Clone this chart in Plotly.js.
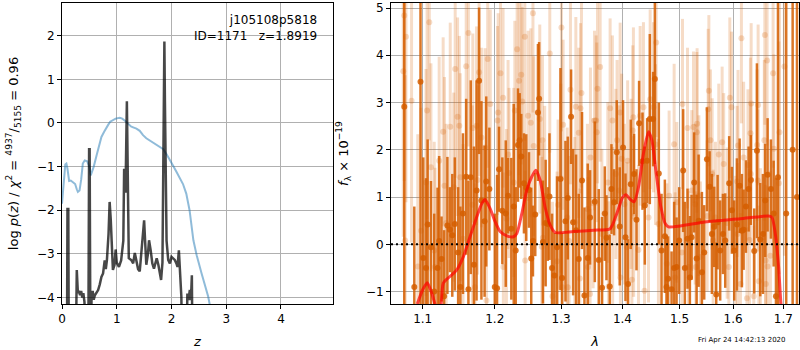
<!DOCTYPE html>
<html>
<head>
<meta charset="utf-8">
<script src="https://cdn.plot.ly/plotly-3.0.1.min.js"></script>
<style>html,body{margin:0;padding:0;background:#fff;}#chart{width:800px;height:350px;}</style>
</head>
<body>
<div id="chart"></div>
<script>
// ---------------- Left panel: log p(z) ----------------
const zBlue = [0.0,0.03,0.06,0.08,0.10,0.13,0.16,0.20,0.24,0.27,0.29,0.32,0.35,0.38,0.415,0.46,0.50,0.525,0.58,0.63,0.68,0.72,0.77,0.81,0.84,0.88,0.93,0.98,1.055,1.10,1.15,1.21,1.26,1.30,1.36,1.42,1.48,1.54,1.60,1.66,1.72,1.79,1.85,1.91,1.97,2.03,2.09,2.15,2.21,2.27,2.33,2.40,2.46,2.55,2.61,2.67,2.72,2.78];
const logpBlue = [-1.85,-1.3,-0.95,-0.93,-1.05,-1.33,-1.32,-1.36,-1.4,-1.52,-1.58,-1.55,-1.3,-0.93,-0.86,-0.88,-1.0,-1.2,-1.0,-0.75,-0.5,-0.32,-0.2,-0.1,-0.05,0.03,0.07,0.1,0.12,0.1,0.05,-0.02,-0.08,-0.1,-0.13,-0.18,-0.28,-0.35,-0.4,-0.43,-0.48,-0.55,-0.6,-0.72,-0.84,-0.98,-1.12,-1.28,-1.4,-1.62,-2.0,-2.69,-3.03,-3.45,-3.72,-3.98,-4.3,-4.6];

const zBlack = [0.0,0.09,0.10,0.115,0.125,0.25,0.27,0.29,0.31,0.33,0.35,0.37,0.39,0.41,0.44,0.48,0.495,0.505,0.52,0.54,0.56,0.58,0.60,0.63,0.66,0.69,0.72,0.75,0.77,0.78,0.80,0.82,0.85,0.87,0.89,0.91,0.93,0.96,0.98,1.0,1.04,1.08,1.12,1.135,1.16,1.185,1.20,1.22,1.27,1.30,1.33,1.36,1.39,1.42,1.45,1.48,1.50,1.52,1.54,1.57,1.59,1.62,1.65,1.68,1.71,1.73,1.76,1.79,1.81,1.835,1.85,1.87,1.88,1.895,1.91,1.94,1.97,2.0,2.03,2.06,2.09,2.11,2.135,2.15,2.18,2.20,2.27,2.29,2.31,2.335,2.355,2.372,2.385];
const logpBlack = [-5.5,-5.5,-1.97,-1.97,-5.5,-5.5,-3.37,-3.9,-3.85,-3.95,-3.85,-4.0,-3.9,-4.1,-5.5,-5.5,-0.6,-0.6,-5.5,-4.0,-3.85,-4.05,-3.95,-3.9,-3.83,-3.7,-3.53,-3.45,-3.3,-3.15,-3.35,-3.15,-2.55,-1.81,-2.2,-2.9,-3.37,-3.25,-2.9,-3.2,-3.3,-3.15,-2.7,-1.05,-1.6,0.5,-1.5,-3.1,-3.15,-3.22,-2.98,-3.15,-3.35,-3.4,-2.98,-2.5,-2.23,-2.75,-3.25,-3.0,-2.69,-2.92,-3.22,-3.34,-3.22,-3.1,-3.25,-3.45,-3.6,-3.2,-0.93,1.87,0.5,-2.08,-2.7,-3.14,-3.22,-3.07,-3.11,-3.14,-3.22,-3.3,-2.92,-3.22,-3.98,-5.5,-5.5,-3.91,-4.06,-3.83,-4.06,-3.49,-5.5];

// ---------------- Right panel: spectrum ----------------
const darkWave = [1.0758,1.0889,1.0971,1.1008,1.1044,1.1066,1.1110,1.1154,1.1199,1.1221,1.1253,1.1288,1.1333,1.1368,1.1400,1.1435,1.1481,1.1512,1.1548,1.1593,1.1624,1.1657,1.1702,1.1739,1.1775,1.1808,1.1853,1.1877,1.1922,
1.2000,1.2033,1.2062,1.2110,1.2160,1.2194,1.2242,1.2278,1.2307,1.2341,1.2366,1.2390,1.2430,1.2465,1.2506,1.2540,1.2566,1.2601,1.2642,1.2660,1.2718,1.2760,1.2793,1.2819,1.2859,1.2896,1.2937,1.2990,1.3015,1.3069,1.3106,1.3158,1.3190,1.3237,1.3280,1.3333,1.3372,1.3425,1.3463,1.3540,
1.3605,1.3659,1.3704,1.3732,1.3787,1.3815,1.3859,1.3904,1.3954,1.4010,1.4051,1.4095,1.4141,1.4197,1.4239,1.4284,1.4343,1.4383,1.4423,1.4470,1.4528,1.4558,1.4628,1.4676,1.4735,1.4765,1.4793,1.4855,1.4902,1.4945,1.4992,1.5064,1.5095,1.5144,1.5187,1.5218,1.5266,1.5311,
1.5348,1.5409,1.5452,1.5503,1.5553,1.5596,1.5640,1.5678,1.5704,1.5753,1.5805,1.5849,1.5925,1.5977,1.6022,1.6074,1.6127,1.6171,1.6205,1.6250,1.6303,1.6348,1.6414,1.6467,1.6533,1.6587,1.6633,1.6681,1.6748,1.6803,1.6850,1.6891,1.7060,1.7193,1.7283];
const darkFlux = [2.91,-0.9,3.44,-0.29,-0.5,0.42,-0.06,-1.0,-0.5,0.07,-0.31,-1.1,0.4,0.31,0.19,0.43,-0.17,-0.9,0.65,1.43,-0.95,1.42,-0.43,1.14,3.46,0.93,0.49,1.33,1.17,
-0.9,-0.93,1.59,0.71,0.65,1.03,0.33,0.8,-0.13,2.1,2.2,1.86,1.29,1.2,1.15,-0.3,0.07,0.63,2.79,3.08,0.05,0.45,0.43,1.01,-0.5,-0.66,-0.06,1.38,-0.71,0.49,0.98,2.7,0.47,0.3,-0.31,1.35,-1.08,-0.29,0.57,0.9,
-0.33,-0.92,0.65,0.14,-0.89,1.17,0.89,1.95,0.38,2.05,0.15,-0.84,1.27,1.49,0.52,2.56,1.76,0.82,1.77,2.65,2.65,3.5,1.5,-0.13,0.17,-0.9,-0.73,-0.95,-0.5,-0.48,0.08,1.56,-0.5,0.12,-0.7,0.15,1.31,-0.3,
0.5,-0.59,-0.17,1.8,1.22,0.22,0.37,-1.06,0.47,-0.13,0.22,0.08,1.29,0.72,-0.13,0.42,1.24,0.29,0.31,0.8,1.17,1.36,-0.14,1.98,0.1,0.22,0.93,1.47,1.17,0.65,-1.1,1.42,0.65,2.0,1.0];
const darkErr = [6,1.7,6,2.13,1.9,1.8,1.4,1.65,1.7,1.8,0.9,1.4,1.45,0.9,1.3,1.41,1.38,1.7,1.7,1.65,2.3,2.05,2.5,2.33,1.55,2.1,1.6,1.8,1.3,
1.55,2.4,0.9,1.13,1.55,0.8,1.5,2.17,1.34,1.2,1.0,0.9,1.06,1.13,0.8,1.5,0.75,0.88,1.45,1.2,1.3,1.34,0.78,1.34,1.15,0.9,1.5,2.35,0.95,1.7,1.3,1.0,1.55,1.6,1.38,1.45,1.86,2.0,1.0,1.7,
1.5,1.5,1.0,0.9,1.1,0.95,0.7,1.1,1.25,1.0,1.35,0.95,1.37,0.85,1.07,0.9,1.03,1.25,0.9,1.8,1.0,1.8,1.5,1.2,1.2,1.1,0.9,0.8,1.4,1.05,1.13,1.3,1.4,1.06,1.3,0.9,1.06,1.35,
1.4,1.7,1.0,1.1,0.75,1.27,0.85,1.1,1.0,1.06,0.85,1.0,1.0,0.92,1.06,1.4,1.0,1.2,0.85,0.98,0.9,0.95,0.9,1.85,1.2,1.27,1.2,1.2,1.05,1.12,2.5,8,8,8,8];

const lightWave = [1.0745,1.0758,1.0770,1.0780,1.0853,1.0935,1.0978,1.1044,1.1058,1.1088,1.1110,1.1154,1.1165,1.1221,1.1275,1.1293,1.1317,1.1372,1.1420,1.1440,1.1473,1.1497,1.1510,1.1548,1.1593,1.1624,1.1680,1.1686,1.1716,1.1739,1.1753,1.1775,1.1808,1.1860,1.1880,1.1898,1.1935,
1.2040,1.2049,1.2083,1.2121,1.2125,1.2170,1.2194,1.2209,1.2278,1.2294,1.2328,1.2358,1.2390,1.2405,1.2443,1.2448,1.2493,1.2534,1.2566,1.2577,1.2670,1.2700,1.2711,1.2718,1.2745,1.2824,1.2865,1.2937,1.2953,1.2996,1.3006,1.3020,1.3032,1.3096,1.3106,1.3127,1.3148,1.3217,1.3234,1.3280,1.3298,1.3308,1.3324,1.3420,1.3430,1.3463,1.3469,1.3513,1.3535,
1.3562,1.3573,1.3584,1.3628,1.3656,1.3754,1.3765,1.3793,1.3831,1.3835,1.3888,1.3909,1.3944,1.3961,1.3965,1.3987,1.4033,1.4074,1.4088,1.4147,1.4160,1.4175,1.4186,1.4190,1.4273,1.4302,1.4359,1.4377,1.4447,1.4476,1.4534,1.4570,1.4582,1.4621,1.4770,1.4811,1.4901,1.4919,1.4949,1.5040,1.5052,1.5143,1.5162,1.5222,1.5253,1.5284,1.5297,1.5315,
1.5320,1.5353,1.5382,1.5507,1.5526,1.5539,1.5569,1.5601,1.5620,1.5663,1.5726,1.5790,1.5820,1.5886,1.5918,1.5937,1.5969,1.6045,1.6078,1.6085,1.6096,1.6143,1.6162,1.6205,1.6270,1.6290,1.6320,1.6339,1.6345,1.6353,1.6405,1.6471,1.6485,1.6491,1.6505,1.6537,1.6615,1.6625,1.6640,1.6645,1.6671,1.6680,1.6738,1.6792,1.6806,1.6910,1.6922,1.7023];
const lightFlux = [3.66,4.84,0.08,4.39,3.04,-0.47,0.29,1.31,2.83,4.70,1.63,-0.13,-0.48,1.77,2.38,1.24,0.45,2.49,1.21,3.71,2.70,2.51,1.42,0.12,3.77,4.47,0.84,2.46,-0.91,2.51,1.36,3.64,2.26,2.05,-1.19,3.92,2.97,
2.62,2.79,3.62,3.10,-0.48,0.54,1.90,1.51,1.31,2.83,4.13,3.46,3.59,3.02,4.39,-0.34,2.72,2.57,4.89,2.08,2.65,-0.05,2.20,0.14,1.03,4.04,-1.10,-0.36,0.84,1.40,4.59,-0.91,2.53,0.57,-0.91,0.07,3.27,0.47,2.91,2.36,-0.72,2.88,3.20,0.75,-0.48,-1.05,1.84,0.87,2.62,
2.62,2.37,3.29,3.75,0.22,1.31,-0.89,2.88,2.62,0.36,1.49,2.20,1.14,2.79,-0.70,1.81,0.85,-0.06,1.77,1.28,-0.75,2.41,2.69,0.59,-0.12,2.72,2.90,-0.98,0.57,3.07,2.90,2.11,4.27,0.43,-0.41,1.03,2.12,-0.70,0.89,-0.17,2.97,2.46,-0.48,1.14,2.48,0.85,-0.48,2.37,
2.55,1.03,-0.27,0.60,2.86,3.25,2.20,1.49,0.08,0.57,1.90,2.16,1.70,0.45,-0.48,3.10,2.90,-0.05,1.33,0.22,2.09,-0.84,4.36,1.84,-1.14,1.68,0.09,2.35,1.49,2.98,-1.10,2.10,1.35,2.95,-0.78,0.11,2.20,4.43,-0.34,-0.84,3.89,-0.47,-0.24,3.62,2.02,1.29,2.37,3.76];
const lightErr = [3.5,3.5,3.5,3.5,3.0,2.8,2.6,2.4,2.3,2.5,2.2,2.3,2.1,2.2,2.0,2.3,2.1,2.2,2.0,2.3,2.1,1.9,2.2,2.0,2.2,2.4,2.1,2.0,2.2,2.1,2.0,2.2,1.9,2.1,2.2,2.3,2.0,
2.0,2.1,2.0,1.9,2.0,1.9,2.0,1.8,2.0,1.9,2.1,2.0,1.9,2.0,2.2,1.9,1.8,2.0,2.1,1.9,2.0,1.9,1.8,2.0,1.9,2.1,2.0,1.9,1.8,2.0,2.2,1.9,1.8,1.9,2.0,1.8,2.0,1.8,1.9,1.8,1.9,1.8,2.0,1.8,1.9,1.8,1.9,1.8,1.9,
1.8,1.9,2.0,2.0,1.8,1.7,1.8,1.9,1.8,1.7,1.8,1.7,1.8,1.9,1.7,1.8,1.7,1.8,1.7,1.8,1.7,1.8,1.9,1.7,1.8,1.9,1.8,1.7,1.8,1.9,1.8,1.7,2.0,1.8,1.7,1.8,1.7,1.8,1.7,1.7,1.8,1.7,1.6,1.7,1.6,1.7,1.6,1.7,
1.6,1.7,1.6,1.6,1.7,1.6,1.5,1.6,1.5,1.6,1.5,1.6,1.5,1.6,1.5,1.7,1.6,1.5,1.6,1.5,1.6,1.5,1.8,1.6,1.5,1.6,1.5,1.6,1.5,1.7,1.5,1.6,1.5,1.7,1.6,1.5,1.7,1.9,1.6,1.7,1.8,1.7,1.8,2.0,2.0,3.0,3.0,4.0];

const modelWave = [1.0928,1.1000,1.1061,1.1120,1.1164,1.1232,1.1277,1.1368,1.1462,1.1554,1.1647,1.1741,1.1813,1.1860,1.1932,1.2005,1.2078,1.2176,1.2274,1.2324,1.2398,1.2473,1.2548,1.2609,1.2675,1.2751,1.2829,1.2907,1.3195,1.3519,1.3793,1.3904,1.4005,1.4061,1.4130,1.4199,1.4275,1.4359,1.4447,1.4506,1.4582,1.4665,1.4741,1.4800,1.5010,1.5500,1.6137,1.6700,1.6769,1.6836,1.6904,1.6953,1.7041];
const modelFlux = [-1.26,-0.96,-0.81,-1.03,-1.26,-1.5,-0.82,-0.68,-0.54,-0.26,0.16,0.58,0.86,0.95,0.76,0.48,0.27,0.18,0.16,0.23,0.65,1.15,1.43,1.57,1.36,0.79,0.41,0.25,0.27,0.3,0.33,0.65,1.0,1.05,0.95,0.9,1.22,1.92,2.38,2.2,1.5,0.79,0.44,0.37,0.39,0.48,0.54,0.6,0.57,0.23,-0.47,-1.26,-2.0];

const zeroLevel = 0;
const dateStamp = "Fri Apr 24 14:42:13 2020";

// ---------------- styling ----------------
const FONT = "DejaVu Sans, Liberation Sans, sans-serif";
const G141 = "213,94,0";

const axisCommon = {
  showline: true, mirror: true, linecolor: "#000", linewidth: 1,
  ticks: "outside", ticklen: 4, tickcolor: "#000", tickwidth: 1,
  showgrid: true, gridcolor: "#b0b0b0", gridwidth: 1,
  zeroline: false, automargin: false,
  tickfont: {family: FONT, size: 12, color: "#000"}
};

const traces = [
  {x: zBlue, y: logpBlue, xaxis: "x", yaxis: "y", mode: "lines",
   line: {color: "rgba(31,119,180,0.5)", width: 2}, hoverinfo: "skip"},
  {x: zBlack, y: logpBlack, xaxis: "x", yaxis: "y", mode: "lines",
   line: {color: "rgba(0,0,0,0.72)", width: 2.5}, hoverinfo: "skip"},
  {x: lightWave, y: lightFlux, xaxis: "x2", yaxis: "y2", mode: "markers",
   marker: {color: "rgba(" + G141 + ",0.22)", size: 6},
   error_y: {type: "data", array: lightErr, visible: true, color: "rgba(" + G141 + ",0.22)", thickness: 3, width: 0},
   hoverinfo: "skip"},
  {x: darkWave, y: darkFlux, xaxis: "x2", yaxis: "y2", mode: "markers",
   marker: {color: "rgba(" + G141 + ",0.85)", size: 6},
   error_y: {type: "data", array: darkErr, visible: true, color: "rgba(" + G141 + ",0.85)", thickness: 2.5, width: 0},
   hoverinfo: "skip"},
  {x: modelWave, y: modelFlux, xaxis: "x2", yaxis: "y2", mode: "lines",
   line: {color: "rgba(255,0,0,0.7)", width: 3, shape: "spline", smoothing: 0.6}, hoverinfo: "skip"}
];

const layout = {
  width: 800, height: 350,
  margin: {l: 62, r: 1, t: 3, b: 46},
  paper_bgcolor: "#fff", plot_bgcolor: "#fff",
  showlegend: false,
  font: {family: FONT, size: 12, color: "#000"},
  xaxis: Object.assign({}, axisCommon, {
    domain: [0, 0.3677], range: [0, 4.95], dtick: 1, tick0: 0,
    title: {text: "<i>z</i>", font: {family: FONT, size: 13}, standoff: 11}
  }),
  yaxis: Object.assign({}, axisCommon, {
    domain: [0, 1], range: [-4.15, 2.75], dtick: 1, tick0: 0,
    title: {text: "log <i>p</i>(<i>z</i>) / <i>χ</i><sup>2</sup> = <sup>4937</sup>/<sub>5155</sub> = 0.96",
            font: {family: FONT, size: 13}, standoff: 15}
  }),
  xaxis2: Object.assign({}, axisCommon, {
    domain: [0.4464, 1], type: "log", range: [0.024773, 0.23868],
    tickvals: [1.1, 1.2, 1.3, 1.4, 1.5, 1.6, 1.7],
    ticktext: ["1.1", "1.2", "1.3", "1.4", "1.5", "1.6", "1.7"],
    anchor: "y2",
    title: {text: "<i>λ</i>", font: {family: FONT, size: 13}, standoff: 11}
  }),
  yaxis2: Object.assign({}, axisCommon, {
    domain: [0, 1], range: [-1.262, 5.106], dtick: 1, tick0: 0, anchor: "x2",
    title: {text: "<i>f</i><sub>λ</sub> × 10<sup>−19</sup>", font: {family: FONT, size: 13}, standoff: 14}
  }),
  shapes: [
    {type: "line", xref: "x2 domain", yref: "y2", x0: 0, x1: 1, y0: zeroLevel, y1: zeroLevel,
     line: {color: "#000", width: 2, dash: "2px,3px"}, layer: "above"}
  ],
  annotations: [
    {xref: "x domain", yref: "y domain", x: 0.948, y: 0.975, xanchor: "right", yanchor: "top",
     align: "right", showarrow: false,
     text: "j105108p5818<br>ID=1171\u00a0\u00a0\u00a0z=1.8919",
     font: {family: FONT, size: 12, color: "#000"}},
    {xref: "paper", yref: "paper", x: 0.985, y: -0.12, xanchor: "right", yanchor: "middle",
     showarrow: false, text: dateStamp, font: {family: FONT, size: 7, color: "#000"}}
  ]
};

Plotly.newPlot("chart", traces, layout, {staticPlot: true, displayModeBar: false});
</script>
</body>
</html>
